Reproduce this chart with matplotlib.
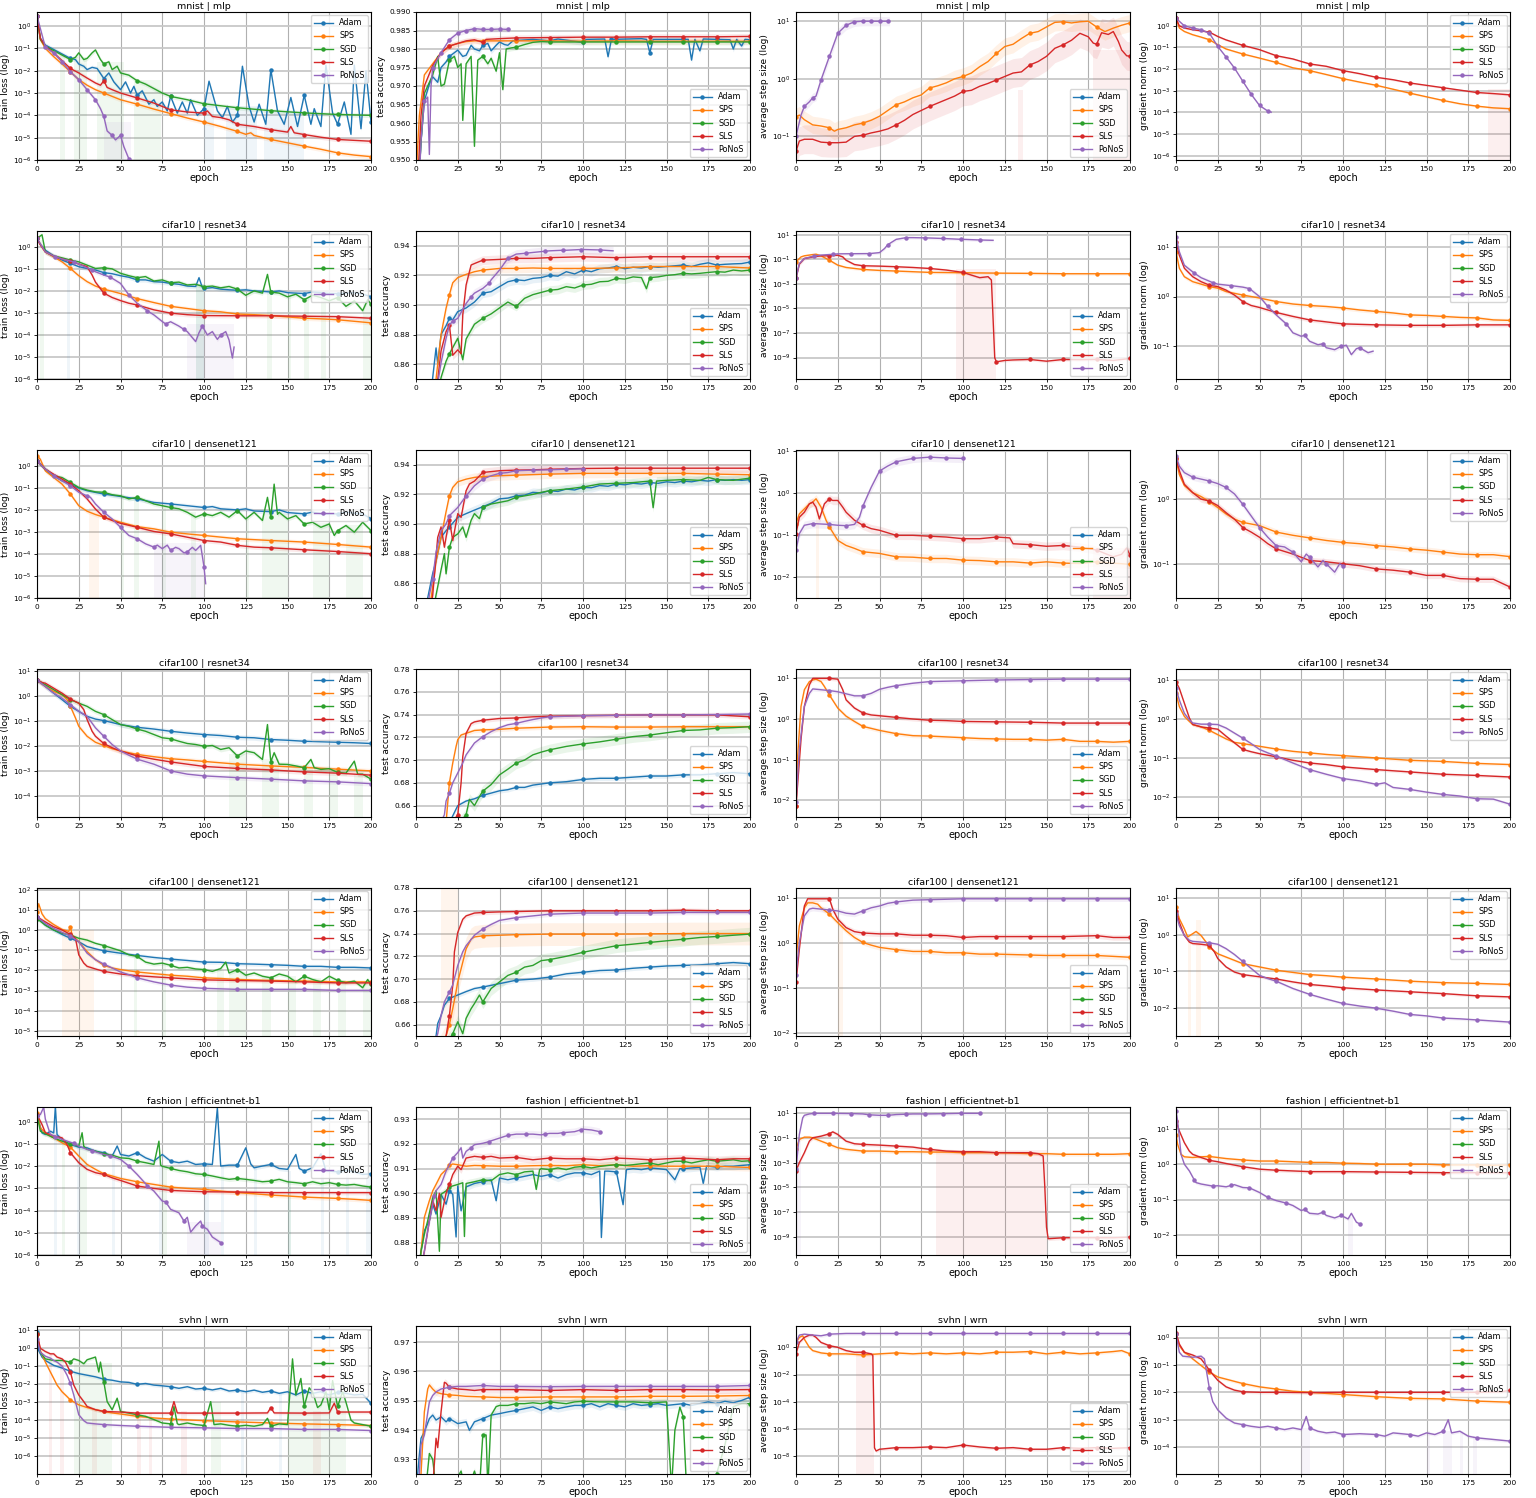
import numpy as np
import matplotlib
matplotlib.use("Agg")
import matplotlib.pyplot as plt

OPTIMIZERS = ["Adam", "SPS", "SGD", "SLS", "PoNoS"]
COLORS = ["#1f77b4", "#ff7f0e", "#2ca02c", "#d62728", "#9467bd"]
ROW_TITLES = ["mnist | mlp", "cifar10 | resnet34", "cifar10 | densenet121",
              "cifar100 | resnet34", "cifar100 | densenet121",
              "fashion | efficientnet-b1", "svhn | wrn"]
YLABELS = ["train loss (log)", "test accuracy", "average step size (log)", "gradient norm (log)"]
X_TICKS = [0, 25, 50, 75, 100, 125, 150, 175, 200]

# ===================== DATA (epoch, value); log panels store log10(value) =====================
# ---------- mnist | mlp ----------
mnist_loss_adam = [(0,.45),(2,-.55),(5,-.85),(10,-1.05),(15,-1.25),(20,-1.45),(23,-1.5),(25,-1.7),(28,-1.8),(30,-1.95),(33,-1.85),(36,-1.9),(40,-2.35),(43,-2.1),(46,-2.5),(50,-2.85),(53,-2.5),(56,-3.0),(58,-2.7),(60,-3.1),(63,-2.9),(67,-3.5),(70,-3.3),(72,-3.6),(75,-3.4),(78,-3.8),(80,-3.15),(84,-3.9),(87,-3.4),(90,-3.9),(92,-3.3),(96,-4.0),(100,-3.7),(103,-2.47),(108,-3.8),(111,-4.1),(114,-3.6),(117,-4.3),(120,-4.0),(123,-1.8),(127,-3.6),(130,-4.3),(133,-3.5),(137,-4.4),(140,-1.95),(144,-3.8),(148,-4.4),(152,-3.2),(156,-4.5),(160,-3.1),(164,-4.4),(166,-3.7),(170,-4.5),(173,-1.75),(177,-3.9),(180,-4.4),(184,-3.4),(188,-4.85),(190,-1.75),(194,-4.6),(197,-2.0),(200,-4.3)]
mnist_loss_sps = [(0,.45),(2,-.6),(5,-1.0),(10,-1.37),(15,-1.7),(20,-2.05),(25,-2.4),(30,-2.65),(35,-2.85),(40,-3.0),(50,-3.3),(60,-3.5),(70,-3.72),(80,-3.92),(90,-4.12),(100,-4.3),(110,-4.5),(120,-4.72),(125,-4.85),(128,-4.78),(130,-4.9),(140,-5.08),(150,-5.23),(160,-5.38),(170,-5.52),(180,-5.68),(190,-5.78),(200,-5.85)]
mnist_loss_sgd = [(0,.45),(2,-.6),(5,-.9),(10,-1.1),(15,-1.3),(20,-1.5),(23,-1.4),(25,-1.2),(28,-1.5),(30,-1.45),(33,-1.2),(35,-1.07),(38,-1.5),(40,-1.7),(43,-1.6),(45,-1.95),(48,-1.8),(50,-2.1),(55,-2.2),(60,-2.45),(65,-2.6),(70,-2.8),(75,-3.0),(80,-3.15),(90,-3.3),(100,-3.48),(120,-3.66),(140,-3.79),(160,-3.89),(180,-3.96),(200,-4.0)]
mnist_loss_sls = [(0,.45),(2,-.55),(5,-.9),(10,-1.2),(15,-1.55),(20,-1.9),(25,-2.1),(30,-2.33),(35,-2.55),(38,-2.65),(40,-2.45),(42,-2.75),(45,-2.85),(50,-3.0),(60,-3.22),(70,-3.45),(80,-3.75),(90,-3.85),(100,-3.9),(102,-3.8),(105,-4.05),(110,-4.1),(115,-4.2),(120,-4.4),(130,-4.5),(140,-4.64),(150,-4.75),(152,-4.5),(154,-4.78),(160,-4.86),(170,-4.98),(180,-5.08),(190,-5.12),(200,-5.16)]
mnist_loss_ponos = [(0,.45),(5,-.95),(10,-1.2),(15,-1.6),(20,-2.05),(25,-2.4),(30,-2.85),(35,-3.3),(38,-3.7),(40,-4.05),(42,-4.7),(45,-4.9),(47,-5.1),(50,-4.9),(52,-5.4),(55,-5.95),(56,-6.0)]

mnist_acc_adam = [(0,.930),(3,.955),(5,.966),(8,.9705),(10,.9725),(13,.971),(15,.975),(18,.9765),(20,.978),(23,.979),(25,.9797),(28,.978),(30,.9783),(33,.981),(35,.980),(38,.9795),(40,.981),(43,.9815),(45,.9795),(48,.981),(50,.9819),(53,.9812),(55,.981),(58,.9822),(60,.9823),(70,.9826),(80,.9822),(85,.9827),(100,.9818),(102,.9826),(113,.9827),(115,.9779),(117,.9826),(135,.9828),(138,.9826),(140,.979),(142,.9826),(160,.9826),(163,.9826),(165,.977),(167,.9826),(170,.9795),(172,.9827),(180,.9826),(188,.9825),(190,.980),(192,.9826),(195,.9808),(197,.9826),(200,.9825)]
mnist_acc_sps = [(0,.945),(2,.962),(5,.973),(10,.976),(15,.979),(20,.9808),(25,.9815),(30,.982),(35,.9822),(40,.9822),(60,.9822),(80,.9822),(100,.9821),(120,.9822),(140,.9821),(160,.9821),(180,.9821),(200,.9821)]
mnist_acc_sgd = [(0,.93),(3,.955),(5,.968),(8,.971),(10,.973),(13,.978),(15,.970),(17,.9705),(20,.977),(23,.978),(25,.975),(27,.976),(28,.9607),(30,.976),(33,.978),(35,.9537),(37,.977),(40,.978),(43,.976),(45,.9775),(48,.974),(50,.979),(52,.969),(54,.980),(57,.9803),(60,.9805),(65,.9812),(70,.9818),(75,.982),(80,.9819),(100,.9819),(120,.9819),(140,.9819),(160,.9819),(180,.9819),(200,.9819)]
mnist_acc_sls = [(0,.935),(3,.962),(5,.970),(10,.9755),(15,.979),(20,.9808),(25,.9815),(30,.9822),(35,.9825),(40,.9818),(42,.9826),(50,.9828),(60,.983),(80,.9831),(100,.9832),(120,.9832),(140,.9833),(160,.9833),(180,.9833),(200,.9834)]
mnist_acc_ponos = [(0,.925),(3,.955),(5,.966),(7,.967),(8,.9515),(9,.970),(10,.975),(15,.979),(20,.9825),(25,.9843),(30,.985),(35,.9855),(40,.9853),(45,.9853),(50,.9854),(55,.9853),(56,.9853)]

mnist_step_sps = [(0,-.66),(2,-.63),(5,-.71),(10,-.8),(15,-.82),(20,-.85),(23,-.91),(25,-.88),(30,-.85),(35,-.8),(40,-.77),(45,-.72),(50,-.65),(55,-.55),(60,-.45),(65,-.4),(70,-.33),(75,-.28),(80,-.16),(85,-.12),(90,-.07),(95,0.0),(100,.04),(105,.1),(110,.21),(115,.3),(120,.44),(125,.56),(130,.6),(135,.7),(140,.79),(145,.82),(150,.9),(155,.98),(160,.99),(165,.97),(170,.99),(175,1.0),(180,.9),(185,.82),(190,.88),(195,.93),(200,.97)]
mnist_step_sls = [(0,-1.26),(2,-1.08),(5,-1.05),(10,-1.05),(15,-1.1),(20,-1.11),(25,-1.11),(30,-1.1),(35,-1.0),(40,-.98),(45,-.94),(50,-.91),(55,-.87),(60,-.8),(65,-.72),(70,-.62),(75,-.55),(80,-.48),(85,-.42),(90,-.36),(95,-.3),(100,-.22),(105,-.2),(110,-.13),(115,-.08),(120,-.02),(125,.04),(130,.1),(135,.12),(140,.24),(145,.3),(150,.39),(155,.53),(160,.59),(165,.67),(170,.79),(175,.73),(178,.62),(180,.6),(183,.8),(187,.77),(190,.82),(193,.65),(195,.5),(198,.4),(200,.39)]
mnist_step_ponos = [(0,-1.0),(3,-.63),(5,-.48),(8,-.4),(10,-.33),(12,-.3),(15,-.02),(20,.39),(25,.79),(30,.93),(35,.99),(40,1.0),(45,1.0),(50,1.0),(55,1.0),(56,1.0)]

mnist_grad_sps = [(0,.35),(2,-.1),(5,-.26),(10,-.41),(15,-.52),(20,-.64),(25,-.87),(30,-1.07),(40,-1.3),(50,-1.49),(60,-1.69),(70,-1.94),(80,-2.07),(90,-2.25),(100,-2.44),(110,-2.6),(120,-2.75),(130,-2.93),(140,-3.11),(150,-3.28),(160,-3.45),(170,-3.6),(180,-3.71),(190,-3.79),(200,-3.83)]
mnist_grad_sls = [(0,.35),(2,0.0),(5,-.1),(10,-.18),(15,-.23),(20,-.29),(25,-.49),(30,-.65),(40,-.9),(50,-1.1),(60,-1.38),(70,-1.53),(80,-1.76),(90,-1.87),(100,-2.07),(110,-2.21),(120,-2.38),(130,-2.49),(140,-2.64),(150,-2.75),(160,-2.86),(170,-2.97),(180,-3.08),(190,-3.13),(200,-3.19)]
mnist_grad_ponos = [(0,.35),(5,0.0),(10,-.1),(15,-.18),(20,-.34),(25,-.95),(30,-1.44),(35,-1.95),(40,-2.56),(45,-3.16),(50,-3.68),(55,-3.94),(57,-3.99)]

# ---------- cifar10 | resnet34 ----------
c10r_loss_adam = [(0,.38),(2,.1),(5,-.15),(10,-.41),(15,-.6),(20,-.75),(25,-.9),(30,-.98),(35,-1.05),(40,-1.17),(45,-1.22),(50,-1.31),(55,-1.38),(60,-1.5),(65,-1.5),(70,-1.58),(75,-1.6),(80,-1.66),(85,-1.7),(90,-1.78),(95,-1.8),(97,-1.4),(99,-1.85),(100,-1.89),(105,-1.85),(110,-1.92),(115,-1.95),(120,-1.97),(125,-1.95),(130,-2.0),(135,-2.02),(140,-2.05),(145,-2.0),(150,-2.08),(155,-2.1),(160,-2.12),(165,-2.05),(170,-2.08),(175,-2.12),(180,-2.12),(185,-2.1),(190,-2.08),(195,-2.15),(200,-2.26)]
c10r_loss_sps = [(0,.38),(2,.1),(5,-.23),(10,-.45),(15,-.68),(20,-.98),(25,-1.31),(30,-1.58),(35,-1.78),(40,-1.92),(50,-2.12),(60,-2.35),(70,-2.53),(80,-2.7),(90,-2.8),(100,-2.9),(110,-2.95),(120,-3.05),(130,-3.08),(140,-3.12),(150,-3.18),(160,-3.24),(170,-3.27),(180,-3.31),(190,-3.38),(200,-3.45)]
c10r_loss_sgd = [(0,.38),(3,.55),(5,-.23),(10,-.41),(15,-.5),(20,-.6),(25,-.68),(30,-.83),(35,-.98),(40,-.95),(45,-1.0),(50,-1.2),(55,-1.31),(60,-1.4),(65,-1.35),(70,-1.55),(75,-1.5),(80,-1.63),(85,-1.6),(90,-1.73),(95,-1.7),(100,-1.81),(105,-1.78),(110,-1.86),(115,-1.8),(120,-1.92),(125,-2.2),(130,-2.0),(135,-2.1),(138,-1.25),(140,-2.05),(145,-2.1),(150,-2.27),(155,-2.15),(160,-2.4),(165,-2.2),(170,-2.3),(175,-2.45),(180,-2.3),(185,-2.7),(190,-2.45),(195,-2.9),(198,-2.4),(200,-2.6)]
c10r_loss_sls = [(0,.38),(2,.1),(5,-.23),(10,-.42),(15,-.55),(20,-.65),(25,-.78),(30,-.9),(33,-1.28),(35,-1.6),(40,-2.1),(45,-2.3),(50,-2.44),(55,-2.56),(60,-2.64),(70,-2.86),(80,-3.01),(90,-3.08),(100,-3.12),(120,-3.13),(140,-3.13),(160,-3.15),(180,-3.17),(200,-3.24)]
c10r_loss_ponos = [(0,.38),(5,-.23),(11,-.45),(15,-.55),(22,-.68),(25,-.78),(30,-.95),(33,-1.05),(35,-1.13),(40,-1.28),(44,-1.38),(50,-1.66),(55,-2.18),(60,-2.56),(66,-2.9),(70,-3.09),(75,-3.39),(77,-3.5),(80,-3.4),(85,-3.6),(88,-3.75),(90,-3.85),(95,-4.3),(97,-3.9),(99,-3.6),(102,-4.0),(105,-3.85),(108,-4.2),(110,-4.0),(113,-3.85),(115,-4.23),(117,-5.05),(118,-4.55)]

c10r_acc_adam = [(0,.80),(8,.83),(10,.851),(12,.871),(13,.86),(15,.88),(18,.886),(20,.891),(22,.89),(25,.8955),(30,.898),(35,.902),(40,.908),(45,.909),(50,.9124),(55,.9157),(60,.917),(65,.9165),(70,.918),(75,.9185),(80,.920),(85,.9195),(90,.9225),(95,.921),(100,.9236),(105,.9225),(110,.9245),(115,.925),(120,.926),(125,.9245),(130,.9255),(135,.925),(140,.926),(145,.9255),(150,.926),(155,.9265),(160,.927),(165,.926),(170,.9275),(175,.9285),(180,.927),(185,.9275),(190,.9278),(195,.928),(200,.929)]
c10r_acc_sps = [(0,.78),(10,.83),(15,.88),(18,.8978),(20,.907),(22,.915),(25,.9185),(30,.9207),(35,.9225),(40,.9236),(50,.9247),(60,.9247),(70,.925),(80,.9247),(100,.9247),(120,.925),(140,.926),(160,.926),(180,.926),(200,.925)]
c10r_acc_sgd = [(0,.78),(12,.83),(15,.851),(18,.862),(20,.867),(25,.8775),(28,.863),(30,.877),(35,.887),(40,.891),(45,.894),(50,.898),(55,.902),(60,.899),(65,.9045),(70,.907),(75,.9085),(80,.910),(85,.9105),(90,.9124),(95,.9115),(100,.9135),(105,.914),(110,.9157),(115,.916),(120,.918),(125,.9175),(130,.919),(135,.9185),(138,.911),(140,.9185),(145,.919),(150,.920),(155,.9205),(160,.9214),(165,.921),(170,.9214),(175,.922),(180,.9225),(185,.9222),(190,.9236),(195,.923),(200,.9236)]
c10r_acc_sls = [(0,.78),(11,.83),(15,.869),(18,.882),(20,.8865),(22,.866),(25,.8697),(27,.867),(28,.8933),(30,.9135),(33,.927),(35,.928),(40,.9303),(50,.9308),(60,.9315),(70,.9315),(80,.932),(100,.9326),(120,.932),(140,.9326),(160,.9326),(180,.9326),(200,.9326)]
c10r_acc_ponos = [(0,.78),(12,.84),(15,.861),(18,.8775),(20,.8865),(22,.889),(25,.891),(30,.901),(33,.9055),(35,.908),(40,.9112),(44,.915),(45,.917),(50,.9236),(55,.9315),(60,.9344),(66,.935),(70,.9355),(77,.9363),(80,.9366),(88,.937),(90,.937),(99,.9375),(100,.9375),(110,.9372),(118,.9366)]

c10r_step_sps = [(0,-1.21),(3,-.81),(5,-.72),(10,-.62),(12,-.59),(15,-.72),(20,-1.08),(25,-1.48),(30,-1.67),(40,-1.83),(50,-1.91),(60,-1.96),(80,-2.07),(100,-2.1),(120,-2.13),(140,-2.15),(160,-2.18),(180,-2.18),(200,-2.18)]
c10r_step_sls = [(0,-2.56),(2,-1.4),(5,-.94),(10,-.81),(15,-.72),(20,-.72),(25,-.67),(28,-.81),(30,-1.08),(35,-1.43),(40,-1.53),(50,-1.56),(60,-1.61),(70,-1.67),(80,-1.75),(90,-1.88),(100,-2.07),(105,-2.29),(110,-2.5),(115,-2.42),(117,-2.69),(118,-5.8),(119,-9.03),(120,-9.35),(125,-9.24),(130,-9.2),(140,-9.16),(150,-9.3),(160,-9.16),(170,-9.18),(180,-9.16),(190,-9.24),(200,-9.08)]
c10r_step_ponos = [(0,-2.56),(2,-1.35),(5,-.94),(11,-.73),(15,-.66),(22,-.6),(25,-.56),(33,-.55),(44,-.54),(50,-.46),(53,-.13),(55,.19),(60,.62),(66,.76),(70,.76),(77,.74),(80,.73),(88,.69),(90,.68),(99,.62),(100,.62),(110,.57),(118,.54)]

c10r_grad_sps = [(0,.9),(2,.57),(5,.4),(10,.3),(15,.25),(20,.2),(25,.17),(30,.1),(40,.03),(50,-.03),(60,-.1),(70,-.15),(80,-.18),(90,-.2),(100,-.23),(110,-.27),(120,-.3),(130,-.33),(140,-.37),(150,-.38),(160,-.4),(170,-.42),(180,-.43),(190,-.47),(200,-.48)]
c10r_grad_sls = [(0,1.1),(2,.83),(5,.57),(10,.4),(15,.3),(20,.23),(25,.2),(30,.13),(35,.03),(40,-.1),(45,-.18),(50,-.22),(55,-.27),(60,-.32),(70,-.4),(80,-.47),(90,-.51),(100,-.55),(120,-.57),(140,-.58),(160,-.58),(180,-.57),(200,-.57)]
c10r_grad_ponos = [(0,1.2),(2,.9),(5,.63),(11,.47),(15,.38),(22,.28),(25,.25),(33,.22),(40,.19),(44,.16),(50,0.0),(55,-.2),(60,-.37),(66,-.55),(70,-.73),(75,-.8),(77,-.78),(80,-.9),(85,-.97),(88,-.95),(90,-1.03),(95,-1.07),(99,-1.0),(102,-.98),(105,-1.17),(108,-1.05),(110,-1.03),(115,-1.13),(118,-1.1)]

# ---------- cifar10 | densenet121 ----------
c10d_loss_adam = [(0,.23),(5,-.15),(10,-.45),(15,-.68),(20,-.83),(25,-1.01),(30,-1.13),(40,-1.28),(50,-1.39),(60,-1.5),(70,-1.66),(80,-1.73),(90,-1.81),(100,-1.89),(105,-1.85),(110,-1.95),(120,-2.0),(125,-1.95),(130,-2.05),(140,-2.08),(145,-2.0),(150,-2.12),(160,-2.18),(165,-2.1),(170,-2.18),(180,-2.18),(185,-2.1),(190,-2.15),(195,-2.18),(200,-2.4)]
c10d_loss_sps = [(0,.45),(2,.3),(5,-.23),(10,-.53),(15,-.83),(20,-1.28),(25,-1.81),(30,-2.06),(35,-2.21),(40,-2.33),(50,-2.56),(60,-2.76),(70,-2.86),(80,-3.01),(90,-3.09),(100,-3.16),(120,-3.31),(140,-3.39),(160,-3.46),(180,-3.57),(200,-3.69)]
c10d_loss_sgd = [(0,.23),(5,-.15),(10,-.45),(15,-.53),(20,-.75),(25,-.98),(30,-1.1),(35,-1.18),(40,-1.2),(45,-1.31),(50,-1.36),(55,-1.5),(60,-1.43),(65,-1.58),(70,-1.73),(75,-1.81),(80,-1.89),(85,-1.95),(90,-2.11),(95,-2.33),(100,-2.18),(105,-2.26),(110,-2.11),(115,-2.33),(120,-2.03),(125,-2.41),(130,-2.11),(135,-2.48),(138,-1.43),(140,-2.33),(142,-.83),(144,-2.2),(145,-2.11),(150,-2.41),(155,-2.26),(160,-2.64),(165,-2.56),(170,-2.79),(175,-2.64),(178,-3.16),(180,-2.94),(185,-2.71),(190,-3.01),(195,-2.56),(200,-2.94)]
c10d_loss_sls = [(0,.23),(5,-.15),(10,-.38),(15,-.6),(20,-.83),(25,-1.13),(30,-1.5),(35,-1.96),(40,-2.33),(45,-2.48),(50,-2.61),(60,-2.79),(70,-2.98),(80,-3.09),(90,-3.24),(100,-3.39),(110,-3.46),(120,-3.61),(130,-3.69),(140,-3.72),(160,-3.81),(180,-3.89),(200,-3.99)]
c10d_loss_ponos = [(0,.23),(5,-.15),(10,-.45),(15,-.68),(20,-.9),(25,-1.2),(30,-1.36),(32,-1.43),(35,-1.73),(40,-2.11),(45,-2.41),(50,-2.79),(55,-3.16),(60,-3.31),(65,-3.54),(70,-3.69),(72,-3.6),(75,-3.76),(78,-3.6),(80,-3.84),(83,-3.7),(85,-3.76),(88,-3.95),(90,-3.91),(93,-3.7),(95,-3.84),(98,-3.61),(100,-4.59),(101,-5.35)]

c10d_acc_adam = [(0,.80),(7,.85),(10,.8666),(12,.875),(15,.891),(18,.8955),(20,.898),(25,.9045),(30,.907),(35,.9094),(40,.9117),(45,.914),(50,.917),(55,.9175),(60,.919),(65,.9195),(70,.9214),(75,.921),(80,.9225),(85,.922),(90,.9236),(95,.923),(100,.9247),(105,.9245),(110,.926),(115,.9255),(120,.927),(125,.9265),(130,.9275),(135,.927),(140,.928),(145,.9275),(150,.9285),(155,.928),(160,.929),(165,.9285),(170,.9295),(175,.929),(180,.930),(185,.9295),(190,.930),(195,.9295),(200,.930)]
c10d_acc_sps = [(0,.78),(10,.8575),(12,.875),(15,.891),(18,.9083),(20,.919),(22,.9247),(25,.9285),(30,.9303),(35,.9315),(40,.932),(50,.9326),(60,.933),(80,.9337),(100,.9342),(120,.9342),(140,.9342),(160,.9342),(180,.9337),(200,.9333)]
c10d_acc_sgd = [(0,.78),(12,.852),(15,.869),(17,.88),(18,.8663),(20,.8843),(22,.891),(25,.8933),(28,.898),(30,.891),(33,.9025),(35,.907),(38,.9036),(40,.9112),(45,.9135),(50,.9146),(55,.9157),(60,.918),(65,.919),(70,.920),(75,.9214),(80,.9225),(90,.9236),(100,.925),(110,.927),(120,.9275),(130,.928),(140,.929),(142,.911),(144,.929),(150,.9295),(160,.930),(170,.9295),(175,.9315),(180,.930),(190,.9295),(200,.931)]
c10d_acc_sls = [(0,.78),(10,.852),(13,.891),(15,.898),(17,.8843),(18,.891),(20,.9027),(22,.8888),(25,.907),(27,.9045),(30,.9225),(32,.927),(35,.929),(40,.9348),(50,.936),(60,.9364),(70,.9366),(80,.937),(100,.9375),(120,.9377),(140,.9377),(160,.9377),(180,.9377),(200,.9377)]
c10d_acc_ponos = [(0,.78),(8,.852),(10,.863),(12,.881),(15,.8955),(18,.9),(20,.9056),(25,.9112),(30,.919),(35,.9258),(40,.9303),(45,.9326),(50,.9342),(55,.9348),(60,.936),(70,.9364),(80,.9366),(90,.937),(100,.9373)]

c10d_step_sps = [(0,-.72),(2,-.49),(5,-.37),(8,-.25),(10,-.21),(12,-.13),(15,-.33),(18,-.64),(20,-.8),(25,-1.12),(30,-1.24),(35,-1.31),(40,-1.39),(50,-1.43),(60,-1.51),(70,-1.52),(80,-1.55),(90,-1.55),(100,-1.59),(110,-1.6),(120,-1.63),(130,-1.63),(140,-1.66),(150,-1.63),(160,-1.66),(170,-1.67),(180,-1.63),(190,-1.66),(200,-1.69)]
c10d_step_sls = [(0,-.96),(2,-.57),(5,-.45),(8,-.25),(10,-.21),(12,-.33),(14,-.61),(17,-.25),(20,-.13),(22,-.17),(25,-.17),(28,-.33),(30,-.45),(35,-.64),(40,-.76),(45,-.84),(50,-.88),(60,-1.0),(70,-1.0),(80,-1.02),(90,-1.04),(100,-1.08),(110,-1.08),(120,-1.04),(128,-1.06),(130,-1.2),(140,-1.22),(150,-1.26),(160,-1.24),(170,-1.28),(180,-1.35),(190,-1.51),(195,-1.45),(198,-1.3),(200,-1.47)]
c10d_step_ponos = [(0,-1.35),(2,-.96),(5,-.76),(10,-.72),(20,-.74),(25,-.76),(30,-.77),(35,-.74),(38,-.57),(40,-.31),(45,.14),(50,.53),(55,.65),(60,.75),(70,.83),(80,.86),(90,.84),(100,.83)]

c10d_grad_sps = [(0,.62),(2,.38),(5,.21),(10,.1),(15,.04),(20,-.04),(25,-.13),(30,-.23),(35,-.31),(40,-.36),(50,-.41),(60,-.51),(70,-.56),(80,-.6),(90,-.64),(100,-.67),(110,-.69),(120,-.72),(130,-.74),(140,-.77),(150,-.79),(160,-.82),(170,-.85),(180,-.86),(190,-.86),(200,-.89)]
c10d_grad_sls = [(0,.64),(2,.44),(5,.23),(10,.1),(15,0.0),(20,-.03),(25,-.1),(30,-.21),(35,-.31),(40,-.44),(45,-.51),(50,-.59),(55,-.69),(60,-.77),(70,-.85),(80,-.95),(90,-.97),(100,-1.0),(110,-1.03),(120,-1.08),(130,-1.1),(140,-1.13),(150,-1.18),(160,-1.18),(170,-1.23),(180,-1.24),(190,-1.24),(200,-1.36)]
c10d_grad_ponos = [(0,.67),(2,.51),(5,.41),(10,.34),(15,.31),(20,.28),(25,.24),(30,.18),(35,.08),(40,-.08),(45,-.26),(50,-.44),(55,-.59),(60,-.72),(65,-.74),(70,-.82),(75,-.97),(78,-.85),(80,-.9),(85,-1.05),(88,-.95),(90,-1.0),(95,-1.13),(98,-1.0),(100,-1.03)]

# ---------- cifar100 | resnet34 ----------
c100r_loss_adam = [(0,.66),(5,.4),(10,.13),(15,-.13),(20,-.4),(25,-.6),(30,-.8),(35,-.91),(40,-.97),(50,-1.13),(60,-1.24),(70,-1.31),(80,-1.4),(90,-1.47),(100,-1.53),(110,-1.57),(120,-1.64),(130,-1.66),(140,-1.73),(150,-1.76),(160,-1.8),(170,-1.82),(180,-1.84),(190,-1.86),(200,-1.89)]
c100r_loss_sps = [(0,.66),(5,.4),(10,.2),(15,.07),(18,-.13),(20,-.4),(23,-.86),(25,-1.2),(30,-1.6),(35,-1.84),(40,-1.97),(45,-2.1),(50,-2.19),(60,-2.33),(70,-2.42),(80,-2.5),(90,-2.55),(100,-2.61),(120,-2.72),(140,-2.79),(160,-2.85),(180,-2.92),(200,-2.99)]
c100r_loss_sgd = [(0,.66),(5,.47),(10,.27),(15,.07),(20,-.13),(25,-.27),(30,-.4),(35,-.6),(40,-.73),(45,-.93),(50,-1.13),(55,-1.2),(60,-1.31),(65,-1.4),(70,-1.53),(75,-1.66),(80,-1.7),(85,-1.8),(90,-1.89),(95,-1.93),(100,-2.0),(105,-1.97),(110,-2.13),(115,-2.06),(120,-2.39),(125,-2.19),(130,-2.26),(135,-2.53),(138,-1.13),(140,-2.63),(142,-2.26),(145,-2.72),(150,-2.73),(155,-2.79),(160,-2.86),(164,-2.53),(166,-2.86),(170,-2.93),(175,-2.9),(180,-3.05),(185,-3.08),(190,-2.6),(192,-3.12),(195,-3.12),(200,-3.32)]
c100r_loss_sls = [(0,.66),(3,.56),(5,.53),(10,.33),(15,.13),(20,-.11),(25,-.27),(28,-.53),(30,-.93),(33,-1.4),(35,-1.6),(40,-1.89),(45,-2.06),(50,-2.19),(60,-2.39),(70,-2.52),(80,-2.63),(90,-2.72),(100,-2.81),(120,-2.89),(140,-2.95),(160,-3.03),(180,-3.08),(200,-3.16)]
c100r_loss_ponos = [(0,.66),(5,.4),(10,.13),(15,-.07),(20,-.33),(25,-.6),(30,-.8),(35,-1.26),(40,-1.6),(45,-1.93),(50,-2.19),(55,-2.36),(60,-2.52),(70,-2.72),(80,-2.99),(90,-3.12),(100,-3.19),(120,-3.26),(140,-3.32),(160,-3.39),(180,-3.43),(200,-3.5)]

c100r_acc_adam = [(0,.60),(20,.645),(25,.660),(30,.664),(35,.666),(40,.669),(45,.671),(50,.673),(55,.674),(60,.676),(65,.676),(70,.678),(75,.679),(80,.680),(90,.681),(100,.683),(110,.684),(120,.684),(130,.685),(140,.686),(150,.686),(160,.687),(170,.687),(180,.688),(190,.689),(200,.688)]
c100r_acc_sps = [(0,.60),(18,.645),(20,.68),(22,.6975),(24,.712),(25,.718),(27,.722),(30,.7235),(35,.726),(40,.7265),(50,.727),(60,.728),(80,.729),(100,.7293),(120,.729),(140,.729),(160,.7293),(180,.7293),(200,.7293)]
c100r_acc_sgd = [(0,.60),(30,.652),(32,.6655),(35,.66),(38,.668),(40,.6727),(45,.6785),(50,.687),(55,.692),(60,.6974),(65,.70),(70,.7046),(75,.707),(80,.709),(90,.712),(100,.7142),(110,.716),(120,.7183),(130,.7206),(140,.722),(150,.724),(160,.726),(170,.7265),(180,.728),(190,.7285),(200,.7293)]
c100r_acc_sls = [(0,.60),(25,.652),(27,.68),(28,.703),(30,.7235),(33,.732),(35,.7335),(40,.735),(50,.7365),(60,.737),(70,.738),(80,.7385),(100,.739),(120,.7393),(140,.7397),(160,.7397),(180,.7397),(200,.738)]
c100r_acc_ponos = [(0,.60),(17,.652),(18,.664),(20,.671),(22,.68),(25,.6887),(28,.6975),(30,.7046),(35,.715),(40,.7206),(45,.725),(50,.7285),(55,.731),(60,.7322),(65,.734),(70,.7356),(75,.737),(80,.738),(100,.739),(120,.7393),(140,.7397),(160,.7397),(180,.74),(200,.7405)]

c100r_step_sps = [(0,-2.14),(1,-.91),(3,.31),(5,.72),(8,.92),(10,.96),(12,.98),(15,.92),(17,.8),(20,.59),(25,.27),(30,.07),(35,-.06),(40,-.18),(50,-.28),(60,-.36),(70,-.41),(80,-.42),(90,-.44),(100,-.46),(110,-.48),(120,-.49),(130,-.5),(140,-.5),(150,-.52),(160,-.5),(170,-.55),(180,-.55),(190,-.57),(200,-.55)]
c100r_step_sls = [(0,-2.14),(3,-.5),(5,.31),(8,.84),(10,1.0),(15,1.0),(20,1.0),(25,.98),(28,.72),(30,.47),(35,.27),(40,.15),(45,.1),(50,.08),(60,.04),(70,0.0),(80,-.03),(90,-.04),(100,-.06),(120,-.07),(140,-.08),(160,-.1),(180,-.1),(200,-.1)]
c100r_step_ponos = [(0,-2.05),(2,-.75),(5,.31),(8,.63),(10,.74),(15,.72),(20,.7),(25,.67),(30,.62),(35,.57),(40,.57),(45,.63),(50,.73),(55,.78),(60,.82),(70,.88),(80,.92),(100,.94),(120,.96),(140,.97),(160,.98),(180,.98),(200,.98)]

c100r_grad_sps = [(0,.66),(2,.32),(5,.07),(8,-.06),(10,-.14),(15,-.2),(20,-.29),(25,-.4),(30,-.51),(35,-.6),(40,-.63),(50,-.7),(60,-.77),(70,-.83),(80,-.87),(90,-.91),(100,-.94),(120,-1.0),(140,-1.06),(160,-1.09),(180,-1.14),(200,-1.17)]
c100r_grad_sls = [(0,.96),(2,.79),(5,.41),(8,.03),(10,-.14),(15,-.2),(20,-.23),(25,-.26),(30,-.44),(35,-.61),(40,-.78),(45,-.84),(50,-.89),(60,-.97),(70,-1.06),(80,-1.13),(90,-1.17),(100,-1.23),(120,-1.3),(140,-1.36),(160,-1.42),(180,-1.45),(200,-1.49)]
c100r_grad_ponos = [(0,.79),(2,.49),(5,.15),(8,-.02),(10,-.1),(15,-.13),(20,-.13),(25,-.14),(30,-.23),(35,-.36),(40,-.49),(45,-.63),(50,-.78),(55,-.87),(60,-.95),(70,-1.13),(80,-1.3),(90,-1.42),(100,-1.53),(110,-1.59),(120,-1.68),(125,-1.64),(130,-1.76),(140,-1.81),(150,-1.88),(160,-1.94),(170,-1.98),(180,-2.05),(190,-2.06),(200,-2.19)]

# ---------- cifar100 | densenet121 ----------
c100d_loss_adam = [(0,.65),(5,.24),(10,0.0),(15,-.22),(20,-.41),(25,-.58),(30,-.82),(35,-.93),(40,-1.03),(50,-1.15),(60,-1.26),(70,-1.36),(80,-1.44),(90,-1.51),(100,-1.59),(110,-1.6),(120,-1.67),(130,-1.69),(140,-1.72),(150,-1.75),(160,-1.8),(170,-1.8),(180,-1.85),(190,-1.85),(200,-1.88)]
c100d_loss_sps = [(0,.89),(1,1.3),(3,.8),(5,.56),(10,.27),(15,.03),(19,-.07),(20,.16),(21,-.25),(25,-.58),(30,-1.07),(35,-1.47),(40,-1.75),(45,-1.88),(50,-1.96),(60,-2.08),(70,-2.16),(80,-2.24),(90,-2.29),(100,-2.37),(110,-2.4),(120,-2.45),(140,-2.5),(160,-2.53),(180,-2.57),(200,-2.57)]
c100d_loss_sgd = [(0,.56),(5,.24),(10,0.0),(15,-.16),(20,-.25),(25,-.41),(30,-.5),(35,-.66),(40,-.77),(45,-.9),(50,-1.03),(55,-1.23),(60,-1.31),(65,-1.59),(70,-1.69),(75,-1.64),(80,-1.75),(85,-1.88),(90,-1.85),(95,-1.93),(100,-1.96),(105,-2.05),(110,-1.91),(113,-1.59),(115,-2.13),(120,-1.96),(125,-2.24),(130,-2.13),(135,-2.29),(140,-2.37),(145,-2.18),(150,-2.29),(155,-2.57),(160,-2.29),(165,-2.45),(170,-2.57),(175,-2.29),(180,-2.5),(185,-2.61),(190,-2.53),(195,-2.86),(198,-2.45),(200,-2.69)]
c100d_loss_sls = [(0,.65),(5,.4),(10,.16),(15,0.0),(20,-.22),(23,-.41),(25,-1.23),(28,-1.64),(30,-1.8),(35,-1.93),(40,-2.05),(50,-2.18),(60,-2.26),(70,-2.32),(80,-2.37),(90,-2.42),(100,-2.47),(120,-2.5),(140,-2.53),(160,-2.57),(180,-2.62),(200,-2.62)]
c100d_loss_ponos = [(0,.65),(5,.32),(10,.08),(15,-.12),(20,-.3),(25,-.58),(30,-1.15),(35,-1.47),(40,-1.69),(45,-1.88),(50,-2.08),(55,-2.21),(60,-2.37),(70,-2.57),(80,-2.73),(90,-2.83),(100,-2.89),(120,-2.94),(140,-2.94),(160,-2.94),(180,-2.99),(200,-2.99)]

c100d_acc_adam = [(0,.60),(12,.65),(13,.661),(15,.668),(17,.677),(20,.683),(25,.686),(30,.689),(35,.6917),(40,.693),(50,.696),(60,.699),(70,.700),(80,.7017),(90,.7046),(100,.706),(110,.7075),(120,.708),(130,.7095),(140,.7105),(150,.7115),(160,.712),(170,.7125),(180,.7135),(190,.7145),(200,.7135)]
c100d_acc_sps = [(0,.60),(18,.65),(20,.66),(22,.674),(24,.689),(25,.6975),(27,.709),(30,.7265),(33,.735),(35,.737),(40,.738),(50,.7385),(60,.739),(80,.7395),(100,.7395),(120,.7395),(140,.7397),(160,.740),(180,.740),(200,.740)]
c100d_acc_sgd = [(0,.60),(22,.652),(25,.6625),(28,.652),(30,.6655),(33,.674),(35,.6785),(38,.686),(40,.68),(45,.6917),(50,.6975),(55,.7032),(60,.706),(65,.7105),(70,.712),(75,.7162),(80,.7171),(90,.720),(100,.7235),(110,.7265),(120,.7293),(130,.7307),(140,.7322),(150,.7336),(160,.735),(170,.7365),(180,.7374),(190,.7385),(200,.7395)]
c100d_acc_sls = [(0,.60),(18,.65),(20,.668),(22,.6945),(23,.724),(25,.741),(28,.7525),(30,.7555),(35,.758),(40,.7585),(50,.759),(60,.7593),(80,.76),(100,.76),(120,.76),(140,.76),(160,.7605),(180,.76),(200,.76)]
c100d_acc_ponos = [(0,.60),(13,.652),(15,.668),(17,.68),(20,.6887),(22,.695),(25,.712),(28,.724),(30,.7293),(35,.7385),(40,.744),(45,.748),(50,.7515),(60,.754),(70,.7555),(80,.757),(100,.758),(120,.758),(140,.758),(160,.7585),(180,.7585),(200,.7585)]

c100d_step_sps = [(0,-.35),(2,.39),(5,.79),(7,.9),(10,.9),(13,.87),(15,.79),(20,.65),(25,.46),(30,.28),(35,.13),(40,.02),(45,-.04),(50,-.09),(60,-.14),(70,-.18),(80,-.18),(90,-.21),(100,-.21),(110,-.24),(120,-.24),(130,-.25),(140,-.26),(150,-.27),(160,-.27),(170,-.27),(180,-.27),(190,-.29),(200,-.31)]
c100d_step_sls = [(0,-.86),(2,-.13),(5,.83),(7,.99),(10,.99),(15,.99),(20,.99),(22,.76),(25,.54),(30,.35),(35,.26),(40,.23),(50,.21),(60,.21),(70,.18),(80,.18),(90,.17),(100,.13),(110,.15),(120,.15),(140,.15),(160,.15),(180,.17),(190,.13),(200,.13)]
c100d_step_ponos = [(0,-.71),(2,.02),(5,.61),(8,.76),(10,.78),(15,.76),(20,.74),(25,.72),(30,.67),(35,.65),(40,.72),(45,.79),(50,.83),(55,.89),(60,.92),(70,.96),(80,.97),(100,.99),(120,.99),(140,.99),(160,.99),(180,.99),(200,.99)]

c100d_grad_sps = [(0,.75),(2,.44),(5,.16),(7,-.06),(10,.03),(12,.09),(15,-.02),(18,-.2),(20,-.34),(25,-.52),(30,-.61),(35,-.7),(40,-.79),(50,-.88),(60,-.97),(70,-1.03),(80,-1.09),(90,-1.12),(100,-1.16),(120,-1.21),(140,-1.27),(160,-1.31),(180,-1.33),(200,-1.36)]
c100d_grad_sls = [(0,.66),(2,.34),(5,-.02),(8,-.2),(10,-.24),(15,-.26),(20,-.29),(23,-.47),(25,-.65),(30,-.88),(35,-1.02),(40,-1.09),(50,-1.15),(60,-1.21),(70,-1.29),(80,-1.36),(90,-1.4),(100,-1.45),(120,-1.51),(140,-1.56),(160,-1.61),(180,-1.67),(200,-1.7)]
c100d_grad_ponos = [(0,.57),(2,.25),(5,-.02),(8,-.15),(10,-.18),(15,-.2),(20,-.22),(25,-.26),(30,-.38),(35,-.54),(40,-.73),(45,-.92),(50,-1.11),(55,-1.2),(60,-1.27),(70,-1.47),(80,-1.63),(90,-1.76),(100,-1.88),(110,-1.95),(120,-2.01),(130,-2.09),(140,-2.18),(150,-2.22),(160,-2.28),(170,-2.3),(180,-2.33),(190,-2.36),(200,-2.39)]

# ---------- fashion | efficientnet-b1 ----------
fash_loss_adam = [(0,.33),(3,-.5),(5,-.57),(8,-.42),(10,-.5),(11,.7),(12,-.57),(15,-.8),(20,-1.02),(25,-1.14),(30,-1.17),(35,-1.32),(40,-1.39),(45,-1.54),(48,-1.09),(50,-1.47),(55,-1.54),(60,-1.39),(65,-1.62),(70,-1.77),(75,-1.47),(80,-1.77),(85,-1.84),(90,-1.77),(95,-1.92),(100,-1.89),(105,-1.92),(108,.63),(110,-1.99),(115,-1.95),(120,-1.95),(125,-1.17),(128,-1.9),(130,-2.07),(135,-1.99),(140,-1.92),(145,-2.1),(150,-2.14),(155,-1.47),(157,-2.1),(160,-2.22),(165,-2.07),(170,-1.44),(173,-2.2),(175,-2.22),(180,-2.25),(185,-2.19),(190,-2.25),(195,-2.37),(200,-2.34)]
fash_loss_sps = [(0,.4),(2,-.27),(5,-.49),(10,-.72),(15,-.94),(20,-1.14),(25,-1.54),(30,-1.92),(35,-2.14),(40,-2.34),(45,-2.44),(50,-2.55),(60,-2.7),(70,-2.82),(80,-2.94),(90,-3.0),(100,-3.04),(110,-3.12),(120,-3.19),(130,-3.24),(140,-3.3),(150,-3.34),(160,-3.39),(170,-3.42),(180,-3.45),(190,-3.49),(200,-3.54)]
fash_loss_sgd = [(0,.33),(2,-.42),(5,-.54),(10,-.72),(15,-.87),(20,-.99),(25,-1.09),(27,-.49),(28,-1.1),(30,-1.24),(35,-1.32),(40,-1.44),(45,-1.5),(50,-1.62),(55,-1.65),(60,-1.77),(65,-1.84),(70,-1.92),(73,-.87),(74,-1.95),(75,-2.0),(80,-2.1),(85,-2.19),(90,-2.25),(95,-2.34),(100,-2.37),(105,-2.44),(110,-2.52),(115,-2.59),(120,-2.55),(125,-2.59),(130,-2.64),(135,-2.7),(140,-2.67),(145,-2.59),(150,-2.7),(155,-2.74),(160,-2.79),(165,-2.7),(170,-2.79),(175,-2.74),(180,-2.82),(185,-2.85),(190,-2.82),(195,-2.89),(200,-2.94)]
fash_loss_sls = [(0,.33),(2,.03),(3,-.12),(5,-.49),(10,-.64),(15,-.72),(18,-1.02),(20,-1.39),(25,-1.84),(30,-2.14),(35,-2.29),(40,-2.37),(45,-2.52),(50,-2.64),(60,-2.89),(70,-3.0),(80,-3.09),(90,-3.12),(100,-3.15),(120,-3.16),(140,-3.19),(160,-3.19),(180,-3.19),(200,-3.19)]
fash_loss_ponos = [(0,.25),(2,.33),(4,.66),(5,.12),(8,-.57),(11,-.66),(15,-.79),(22,-.97),(25,-1.09),(30,-1.24),(33,-1.3),(40,-1.47),(44,-1.53),(50,-1.69),(55,-1.99),(60,-2.37),(66,-2.87),(70,-3.12),(75,-3.57),(77,-3.6),(80,-3.94),(85,-4.1),(88,-4.47),(90,-4.3),(92,-4.97),(95,-4.69),(98,-4.47),(99,-4.7),(102,-4.84),(105,-5.19),(108,-5.34),(110,-5.44)]

fash_acc_adam = [(0,.86),(3,.8765),(5,.8849),(8,.8889),(10,.8956),(12,.8916),(15,.8996),(18,.8956),(20,.901),(22,.8996),(24,.8823),(25,.903),(27,.8929),(30,.9026),(35,.904),(40,.9047),(45,.9055),(48,.897),(50,.9062),(55,.9055),(60,.9062),(65,.9069),(70,.9076),(75,.9069),(80,.9076),(85,.9062),(90,.9076),(95,.9083),(100,.9083),(105,.9076),(110,.909),(111,.8821),(113,.909),(115,.909),(120,.9087),(124,.8954),(126,.9096),(130,.91),(135,.9096),(140,.9103),(145,.91),(150,.9096),(155,.9055),(158,.91),(160,.91),(165,.9103),(170,.9106),(172,.904),(174,.911),(175,.911),(180,.9106),(185,.911),(190,.911),(195,.9113),(200,.9116)]
fash_acc_sps = [(0,.86),(3,.8765),(5,.8903),(8,.897),(10,.901),(12,.9036),(15,.9076),(18,.9096),(20,.9113),(22,.9119),(25,.9116),(30,.911),(35,.9113),(40,.9112),(50,.911),(60,.911),(70,.9112),(80,.9113),(90,.9112),(100,.9116),(110,.9112),(120,.9116),(130,.911),(140,.9112),(150,.911),(160,.911),(170,.911),(180,.911),(190,.9107),(200,.9105)]
fash_acc_sgd = [(0,.86),(3,.8765),(5,.8835),(7,.8889),(10,.8983),(12,.901),(14,.8765),(15,.8996),(18,.901),(20,.9026),(25,.9036),(28,.9043),(29,.8825),(30,.904),(35,.9047),(40,.9055),(45,.9051),(50,.9076),(55,.9083),(60,.9076),(65,.9087),(70,.909),(72,.9016),(74,.9096),(75,.91),(80,.9096),(85,.9103),(90,.9096),(95,.9106),(100,.9109),(105,.9103),(110,.9109),(115,.9113),(120,.9116),(125,.9113),(130,.9116),(135,.912),(140,.9123),(145,.9116),(150,.9123),(155,.913),(160,.913),(165,.9123),(170,.913),(175,.9136),(180,.913),(185,.9133),(190,.9136),(195,.913),(200,.9132)]
fash_acc_sls = [(0,.86),(5,.8765),(8,.8889),(10,.897),(12,.893),(14,.9),(15,.8903),(18,.9),(20,.9036),(22,.9076),(25,.911),(27,.9096),(30,.9143),(35,.915),(40,.9146),(45,.915),(50,.9143),(60,.9146),(70,.9136),(80,.9143),(90,.914),(100,.914),(110,.9136),(120,.9143),(130,.914),(140,.9136),(150,.914),(160,.9143),(170,.914),(180,.9136),(190,.914),(200,.914)]
fash_acc_ponos = [(0,.86),(5,.8765),(8,.8889),(11,.899),(12,.901),(15,.9036),(18,.909),(20,.9116),(22,.9143),(25,.9165),(27,.9185),(28,.9143),(30,.917),(33,.9185),(35,.9197),(40,.9203),(44,.921),(45,.9213),(50,.9224),(55,.9235),(60,.924),(66,.924),(70,.924),(75,.9237),(77,.924),(80,.9243),(85,.9243),(88,.9246),(90,.9247),(95,.925),(99,.9258),(100,.926),(105,.9257),(110,.925)]

fash_step_sps = [(0,-1.93),(2,-1.13),(5,-.95),(8,-.95),(10,-1.0),(15,-1.27),(20,-1.53),(25,-1.8),(30,-1.93),(35,-2.0),(40,-2.07),(50,-2.07),(60,-2.12),(70,-2.12),(80,-2.15),(90,-2.15),(100,-2.2),(110,-2.2),(120,-2.2),(130,-2.23),(140,-2.28),(150,-2.28),(160,-2.33),(170,-2.33),(180,-2.33),(190,-2.33),(200,-2.28)]
fash_step_sls = [(0,-3.67),(2,-3.0),(5,-2.2),(8,-1.27),(10,-1.0),(15,-.87),(20,-.68),(22,-.52),(25,-.73),(30,-1.27),(35,-1.48),(40,-1.53),(50,-1.59),(60,-1.67),(70,-1.75),(75,-1.85),(80,-1.93),(90,-2.07),(100,-2.12),(110,-2.12),(120,-2.2),(130,-2.2),(140,-2.2),(145,-2.28),(148,-2.47),(149,-5.0),(150,-8.2),(151,-9.13),(160,-9.05),(170,-9.05),(180,-9.05),(190,-9.05),(200,-9.0)]
fash_step_ponos = [(0,-3.53),(2,-.73),(4,.6),(5,.81),(8,.92),(11,.97),(22,.97),(33,.95),(40,.92),(44,.85),(50,.81),(55,.81),(60,.87),(66,.9),(70,.92),(77,.92),(88,.94),(99,.97),(110,.97)]

fash_grad_sps = [(0,.84),(1,.56),(3,.28),(5,.21),(10,.19),(15,.21),(20,.22),(25,.19),(30,.16),(40,.12),(50,.09),(60,.09),(70,.07),(80,.05),(90,.05),(100,.03),(110,.02),(120,0.0),(130,0.0),(140,0.0),(150,0.0),(160,-.02),(170,-.02),(180,-.02),(190,-.03),(200,-.02)]
fash_grad_sls = [(0,1.22),(2,.94),(5,.61),(8,.37),(10,.28),(15,.19),(20,.11),(25,.07),(30,.02),(40,-.07),(50,-.14),(60,-.17),(70,-.19),(80,-.21),(100,-.21),(120,-.22),(140,-.23),(160,-.24),(180,-.24),(200,-.24)]
fash_grad_ponos = [(0,1.5),(1,1.22),(2,.75),(3,.28),(5,0.0),(8,-.19),(11,-.45),(12,-.52),(15,-.56),(22,-.62),(25,-.61),(30,-.64),(33,-.6),(35,-.58),(40,-.66),(44,-.67),(50,-.8),(55,-.94),(60,-1.03),(66,-1.1),(70,-1.17),(75,-1.31),(77,-1.28),(80,-1.39),(85,-1.41),(88,-1.36),(90,-1.45),(95,-1.52),(99,-1.45),(103,-1.55),(105,-1.39),(108,-1.64),(110,-1.69)]

# ---------- svhn | wrn ----------
svhn_loss_adam = [(0,.88),(1,-.13),(3,-.49),(5,-.68),(10,-.95),(15,-1.1),(20,-1.28),(25,-1.41),(30,-1.5),(35,-1.59),(40,-1.72),(45,-1.78),(50,-1.87),(55,-1.9),(60,-2.01),(65,-1.96),(70,-2.05),(75,-2.09),(80,-2.14),(85,-2.23),(90,-2.14),(95,-2.27),(100,-2.23),(105,-2.32),(110,-2.23),(115,-2.38),(120,-2.33),(125,-2.42),(130,-2.33),(135,-2.45),(140,-2.38),(145,-2.51),(150,-2.42),(155,-2.6),(160,-2.38),(165,-2.51),(170,-2.42),(175,-2.6),(180,-2.45),(185,-2.51),(190,-2.6),(195,-2.56),(200,-3.06)]
svhn_loss_sps = [(0,.79),(2,-.13),(5,-.77),(8,-1.32),(10,-1.68),(12,-2.05),(15,-2.42),(18,-2.69),(20,-2.88),(25,-3.15),(30,-3.3),(35,-3.42),(40,-3.52),(45,-3.6),(50,-3.66),(60,-3.79),(70,-3.88),(80,-3.94),(90,-3.99),(100,-4.03),(120,-4.1),(140,-4.16),(160,-4.21),(180,-4.25),(200,-4.3)]
svhn_loss_sgd = [(0,.79),(2,-.22),(5,-.59),(10,-.68),(15,-.68),(20,-.77),(22,-.59),(25,-.68),(28,-.86),(30,-.64),(35,-.49),(37,-1.32),(38,-.77),(40,-1.87),(42,-2.97),(45,-3.42),(48,-2.78),(50,-3.52),(55,-3.61),(60,-3.7),(65,-3.79),(70,-3.97),(75,-4.16),(80,-4.21),(82,-3.24),(84,-4.2),(85,-4.25),(90,-4.16),(95,-4.25),(100,-4.3),(104,-2.97),(106,-4.25),(110,-4.21),(115,-4.29),(120,-4.34),(125,-4.29),(130,-4.34),(135,-4.25),(138,-3.9),(140,-4.34),(145,-4.21),(150,-4.25),(153,-.59),(155,-2.6),(158,-1.68),(160,-3.24),(163,-2.2),(165,-2.42),(168,-3.3),(170,-3.15),(173,-2.42),(175,-3.42),(177,-1.8),(180,-3.24),(183,-2.42),(185,-3.0),(188,-4.0),(190,-4.16),(195,-4.25),(200,-4.34)]
svhn_loss_sls = [(0,.79),(2,0.0),(5,-.18),(8,-.31),(10,-.31),(12,-.49),(15,-.59),(17,-.77),(20,-1.32),(22,-2.05),(25,-2.6),(28,-2.97),(30,-3.24),(35,-3.42),(40,-3.52),(50,-3.55),(60,-3.61),(70,-3.61),(80,-3.61),(82,-2.97),(84,-3.6),(90,-3.61),(100,-3.61),(120,-3.61),(138,-3.6),(140,-3.3),(142,-3.6),(160,-3.61),(175,-3.6),(178,-3.06),(180,-3.55),(200,-3.55)]
svhn_loss_ponos = [(0,.51),(2,-.22),(5,-.44),(8,-.55),(10,-.68),(12,-.77),(15,-.99),(18,-1.5),(20,-1.96),(22,-2.6),(25,-3.7),(28,-4.03),(30,-4.16),(35,-4.21),(40,-4.25),(50,-4.3),(60,-4.34),(80,-4.4),(100,-4.43),(120,-4.47),(140,-4.47),(160,-4.52),(180,-4.52),(200,-4.58)]

svhn_acc_adam = [(0,.90),(1,.925),(2,.9316),(3,.9372),(5,.9394),(8,.9439),(10,.9451),(12,.9434),(15,.9445),(18,.9428),(20,.9439),(25,.9422),(30,.9428),(32,.9399),(35,.9428),(40,.9439),(45,.9451),(50,.9456),(55,.9462),(60,.9467),(65,.9473),(70,.9479),(75,.9467),(80,.9479),(85,.9473),(90,.9479),(95,.9484),(100,.9484),(105,.949),(110,.9479),(115,.949),(120,.9484),(125,.9479),(130,.949),(135,.9484),(140,.9487),(145,.949),(150,.9484),(155,.9487),(160,.949),(165,.9484),(170,.949),(175,.9496),(180,.949),(185,.9498),(190,.9493),(195,.9501),(200,.9512)]
svhn_acc_sps = [(0,.90),(3,.925),(5,.9462),(7,.954),(8,.9554),(10,.954),(12,.9529),(15,.9524),(20,.952),(25,.9518),(30,.9515),(40,.9513),(50,.9511),(60,.9511),(80,.9513),(100,.9513),(120,.9513),(140,.9515),(160,.9515),(180,.9516),(200,.9518)]
svhn_acc_sgd = [(0,.90),(5,.915),(8,.932),(10,.930),(12,.920),(15,.918),(20,.915),(25,.924),(27,.926),(30,.918),(35,.926),(38,.92),(40,.9383),(42,.9383),(43,.92),(45,.9451),(48,.948),(50,.9484),(55,.9484),(60,.949),(65,.949),(70,.9493),(75,.949),(80,.9496),(85,.9493),(90,.949),(95,.9496),(100,.9498),(110,.9496),(120,.9496),(130,.9496),(140,.9493),(150,.9496),(153,.92),(155,.9399),(158,.9478),(160,.9445),(162,.92),(165,.924),(168,.92),(170,.923),(175,.92),(180,.925),(185,.935),(190,.948),(195,.949),(200,.949)]
svhn_acc_sls = [(0,.90),(10,.92),(12,.9372),(13,.934),(15,.9462),(17,.9563),(18,.956),(20,.9546),(25,.954),(30,.9538),(35,.9535),(40,.9538),(50,.9538),(60,.9538),(80,.9535),(100,.9538),(120,.9535),(140,.9538),(160,.9538),(180,.9537),(200,.9538)]
svhn_acc_ponos = [(0,.90),(2,.925),(3,.935),(5,.9383),(8,.9496),(10,.9518),(12,.953),(15,.954),(20,.9546),(25,.9549),(30,.9549),(40,.9552),(50,.9549),(60,.9549),(80,.9548),(100,.9549),(120,.9549),(140,.9549),(160,.9549),(180,.9549),(200,.9552)]

svhn_step_sps = [(0,.36),(2,.73),(4,.85),(5,.6),(8,0.0),(10,-.24),(15,-.41),(20,-.48),(30,-.48),(40,-.56),(50,-.48),(60,-.41),(70,-.48),(80,-.41),(90,-.48),(100,-.41),(110,-.48),(120,-.36),(130,-.36),(140,-.31),(150,-.48),(160,-.36),(170,-.48),(180,-.41),(190,-.31),(195,-.24),(200,-.48)]
svhn_step_sls = [(0,-.48),(2,.36),(5,.73),(8,.9),(10,.9),(12,.73),(15,.36),(20,.12),(25,0.0),(30,-.24),(35,-.36),(40,-.36),(45,-.48),(46,-.6),(47,-7.4),(48,-7.63),(50,-7.5),(60,-7.38),(70,-7.38),(80,-7.33),(90,-7.38),(100,-7.19),(110,-7.33),(120,-7.43),(130,-7.38),(140,-7.5),(150,-7.5),(160,-7.38),(170,-7.43),(180,-7.38),(190,-7.43),(200,-7.38)]
svhn_step_ponos = [(0,.36),(2,.9),(5,.97),(10,.9),(15,.85),(20,.97),(30,1.02),(40,1.02),(60,1.02),(80,1.02),(100,1.02),(120,1.02),(140,1.02),(160,1.02),(180,1.02),(200,1.02)]

svhn_grad_sps = [(0,.12),(2,-.3),(5,-.54),(8,-.66),(10,-.78),(15,-1.02),(20,-1.26),(25,-1.44),(30,-1.52),(35,-1.6),(40,-1.68),(50,-1.8),(60,-1.88),(70,-1.96),(80,-2.0),(90,-2.04),(100,-2.08),(110,-2.12),(120,-2.16),(140,-2.22),(160,-2.24),(180,-2.32),(200,-2.36)]
svhn_grad_sls = [(0,.18),(2,-.24),(5,-.54),(8,-.6),(10,-.64),(15,-.78),(18,-1.02),(20,-1.2),(25,-1.56),(30,-1.8),(35,-1.92),(40,-1.98),(50,-2.0),(60,-2.0),(80,-2.01),(100,-2.0),(120,-2.0),(140,-2.0),(160,-2.0),(180,-2.0),(195,-1.98),(200,-1.92)]
svhn_grad_ponos = [(0,.12),(2,-.54),(4,-.68),(10,-.72),(15,-.68),(17,-.78),(18,-1.14),(20,-1.86),(22,-2.34),(25,-2.64),(28,-2.82),(30,-2.94),(35,-3.12),(40,-3.18),(45,-3.24),(50,-3.28),(55,-3.24),(60,-3.3),(65,-3.36),(70,-3.3),(75,-3.36),(78,-2.88),(80,-3.3),(85,-3.42),(90,-3.48),(95,-3.45),(100,-3.54),(110,-3.51),(120,-3.54),(125,-3.6),(130,-3.48),(135,-3.51),(140,-3.54),(145,-3.6),(150,-3.48),(155,-3.54),(160,-3.42),(163,-3.0),(165,-3.48),(170,-3.42),(175,-3.6),(180,-3.66),(185,-3.69),(190,-3.72),(195,-3.75),(200,-3.78)]

# Regions where the std band reaches the axis limit: (optimizer index, start, end, low, high); None = axis limit
mnist_loss_gaps = [(2,14,17,None,-1.3),(2,22,30,None,-1.4),(2,36,52,None,-1.6),(2,58,74,None,-2.4),(0,100,106,None,-3.0),(0,113,132,None,-3.6),(0,136,160,None,-3.8),(4,40,56,None,-4.3)]
mnist_step_gaps = [(3,133,136,None,-0.2),(3,178,200,None,0.5)]
mnist_grad_gaps = [(3,187,200,None,-2.9)]
c10r_loss_gaps = [(0,18,20,None,-0.8),(0,95,100,None,-1.7),(2,2,4,None,0.3),(2,95,100,None,-1.7),(2,138,141,None,-1.9),(2,150,152,None,-2.2),(2,160,163,None,-2.3),(2,170,173,None,-2.3),(2,195,200,None,-2.5),(4,90,118,None,-3.5)]
c10r_step_gaps = [(3,96,120,None,-1.8)]
c10d_loss_gaps = [(1,31,37,None,-1.9),(2,50,52,None,-1.3),(2,58,61,None,-1.4),(2,75,77,None,-1.8),(2,92,95,None,-2.1),(2,125,127,None,-2.3),(2,135,150,None,-2.2),(2,165,175,None,-2.6),(2,185,195,None,-2.7),(4,70,100,None,-3.5)]
c10d_step_gaps = [(1,12,13.5,None,-0.15),(3,178,200,None,-1.3)]
c100r_loss_gaps = [(2,115,125,None,-2.3),(2,135,145,None,-2.5),(2,160,165,None,-2.8),(2,175,180,None,-3.0),(2,190,195,None,-3.1)]
c100d_loss_gaps = [(1,15,34,None,0.0),(2,58,60,None,-1.3),(2,75,77,None,-1.7),(2,108,112,None,-2.0),(2,115,125,None,-2.1),(2,135,140,None,-2.3),(2,150,155,None,-2.3),(2,165,170,None,-2.4),(2,180,185,None,-2.5),(2,195,200,None,-2.6)]
c100d_acc_gaps = [(1,15,25,0.66,None)]
c100d_step_gaps = [(1,25,28,None,0.4)]
c100d_grad_gaps = [(1,7,9,None,-0.1),(1,12,15,None,0.4)]
fash_loss_gaps = [(0,10,12,None,0.0),(0,24,26,None,-1.0),(0,45,47,None,-1.4),(0,73,75,None,-1.8),(0,100,103,None,-1.9),(0,110,112,None,-2.0),(0,130,132,None,-2.0),(0,150,152,None,-2.2),(0,170,172,None,-2.2),(0,185,187,None,-2.3),(0,197,200,None,-2.3),(2,15,17,None,-0.9),(2,26,30,None,-1.0),(2,75,78,None,-2.0),(2,150,152,None,-2.7),(4,90,110,None,-4.5)]
fash_step_gaps = [(3,84,150,None,-2.0),(4,0,3,None,-1.0)]
fash_grad_gaps = [(4,103,106,None,-1.5)]
svhn_loss_gaps = [(3,7,9,None,-0.3),(3,14,16,None,-0.6),(3,33,36,None,-3.4),(3,60,62,None,-3.6),(3,67,69,None,-3.6),(3,86,90,None,-3.5),(3,165,170,None,-3.5),(2,22,45,None,-0.8),(2,104,110,None,-3.0),(2,150,185,None,-2.5),(0,122,124,None,-2.3),(0,145,147,None,-2.5)]
svhn_step_gaps = [(3,36,47,None,-0.4)]
svhn_grad_gaps = [(4,75,80,None,-3.3),(4,150,152,None,-3.4),(4,160,165,None,-3.4),(4,170,172,None,-3.4),(4,178,180,None,-3.6)]

# ===================== PANEL CONFIGURATION =====================
def loss(series, ylim, yt, gaps=(), mark=None):
    return dict(series=series, log=True, ylim=ylim, yticks=yt, gaps=gaps, band=0.1, mark=mark or {})

def acc(series, ylim, yt, band, gaps=(), mark=None, bands=None):
    return dict(series=series, log=False, ylim=ylim, yticks=yt, gaps=gaps, band=band, mark=mark or {}, bands=bands or {})

def logp(series, ylim, yt, band, gaps=(), mark=None, bands=None):
    return dict(series=series, log=True, ylim=ylim, yticks=yt, gaps=gaps, band=band, mark=mark or {}, bands=bands or {})

R = lambda a, b: list(range(a, b - 1, -1))
PANELS = [
    [loss([mnist_loss_adam, mnist_loss_sps, mnist_loss_sgd, mnist_loss_sls, mnist_loss_ponos], (-6, 0.63), R(0, -6), mnist_loss_gaps, {4: 5}),
     acc([mnist_acc_adam, mnist_acc_sps, mnist_acc_sgd, mnist_acc_sls, mnist_acc_ponos], (0.95, 0.99), [0.95 + 0.005 * i for i in range(9)], 0.0008, mark={4: 5}),
     logp([None, mnist_step_sps, None, mnist_step_sls, mnist_step_ponos], (-1.41, 1.16), [1, 0, -1], 0.08, mnist_step_gaps, {4: 5}, {1: 0.15, 3: 0.25}),
     logp([None, mnist_grad_sps, None, mnist_grad_sls, mnist_grad_ponos], (-6.2, 0.64), R(0, -6), 0.05, mnist_grad_gaps, {4: 5})],
    [loss([c10r_loss_adam, c10r_loss_sps, c10r_loss_sgd, c10r_loss_sls, c10r_loss_ponos], (-6, 0.72), R(0, -6), c10r_loss_gaps, {4: 11}),
     acc([c10r_acc_adam, c10r_acc_sps, c10r_acc_sgd, c10r_acc_sls, c10r_acc_ponos], (0.85, 0.95), [0.86, 0.88, 0.90, 0.92, 0.94], 0.003, mark={4: 11}),
     logp([None, c10r_step_sps, None, c10r_step_sls, c10r_step_ponos], (-10.75, 1.3), [1, -1, -3, -5, -7, -9], 0.12, c10r_step_gaps, {4: 11}),
     logp([None, c10r_grad_sps, None, c10r_grad_sls, c10r_grad_ponos], (-1.66, 1.32), [1, 0, -1], 0.04, (), {4: 11})],
    [loss([c10d_loss_adam, c10d_loss_sps, c10d_loss_sgd, c10d_loss_sls, c10d_loss_ponos], (-6, 0.72), R(0, -6), c10d_loss_gaps, {4: 10}),
     acc([c10d_acc_adam, c10d_acc_sps, c10d_acc_sgd, c10d_acc_sls, c10d_acc_ponos], (0.85, 0.95), [0.86, 0.88, 0.90, 0.92, 0.94], 0.003, mark={4: 10}),
     logp([None, c10d_step_sps, None, c10d_step_sls, c10d_step_ponos], (-2.49, 1.03), [1, 0, -1, -2], 0.1, c10d_step_gaps, {4: 10}),
     logp([None, c10d_grad_sps, None, c10d_grad_sls, c10d_grad_ponos], (-1.53, 0.76), [0, -1], 0.05, (), {4: 10})],
    [loss([c100r_loss_adam, c100r_loss_sps, c100r_loss_sgd, c100r_loss_sls, c100r_loss_ponos], (-4.84, 1.1), R(1, -4), c100r_loss_gaps),
     acc([c100r_acc_adam, c100r_acc_sps, c100r_acc_sgd, c100r_acc_sls, c100r_acc_ponos], (0.65, 0.78), [0.66, 0.68, 0.70, 0.72, 0.74, 0.76, 0.78], 0.002, bands={2: 0.005}),
     logp([None, c100r_step_sps, None, c100r_step_sls, c100r_step_ponos], (-2.41, 1.23), [1, 0, -1, -2], 0.05),
     logp([None, c100r_grad_sps, None, c100r_grad_sls, c100r_grad_ponos], (-2.52, 1.29), [1, 0, -1, -2], 0.04)],
    [loss([c100d_loss_adam, c100d_loss_sps, c100d_loss_sgd, c100d_loss_sls, c100d_loss_ponos], (-5.25, 2.08), R(2, -5), c100d_loss_gaps),
     acc([c100d_acc_adam, c100d_acc_sps, c100d_acc_sgd, c100d_acc_sls, c100d_acc_ponos], (0.65, 0.78), [0.66, 0.68, 0.70, 0.72, 0.74, 0.76, 0.78], 0.002, c100d_acc_gaps, bands={1: 0.01, 2: 0.006}),
     logp([None, c100d_step_sps, None, c100d_step_sls, c100d_step_ponos], (-2.06, 1.23), [1, 0, -1, -2], 0.06, c100d_step_gaps),
     logp([None, c100d_grad_sps, None, c100d_grad_sls, c100d_grad_ponos], (-2.77, 1.28), [1, 0, -1, -2], 0.04, c100d_grad_gaps)],
    [loss([fash_loss_adam, fash_loss_sps, fash_loss_sgd, fash_loss_sls, fash_loss_ponos], (-6, 0.67), R(0, -6), fash_loss_gaps, {4: 11}),
     acc([fash_acc_adam, fash_acc_sps, fash_acc_sgd, fash_acc_sls, fash_acc_ponos], (0.875, 0.935), [0.88, 0.89, 0.90, 0.91, 0.92, 0.93], 0.0015, mark={4: 11}),
     logp([None, fash_step_sps, None, fash_step_sls, fash_step_ponos], (-10.44, 1.48), [1, -1, -3, -5, -7, -9], 0.15, fash_step_gaps, {4: 11}),
     logp([None, fash_grad_sps, None, fash_grad_sls, fash_grad_ponos], (-2.57, 1.62), [1, 0, -1, -2], 0.05, fash_grad_gaps, {4: 11})],
    [loss([svhn_loss_adam, svhn_loss_sps, svhn_loss_sgd, svhn_loss_sls, svhn_loss_ponos], (-7.0, 1.24), R(1, -6), svhn_loss_gaps),
     acc([svhn_acc_adam, svhn_acc_sps, svhn_acc_sgd, svhn_acc_sls, svhn_acc_ponos], (0.925, 0.9755), [0.93, 0.94, 0.95, 0.96, 0.97], 0.0012),
     logp([None, svhn_step_sps, None, svhn_step_sls, svhn_step_ponos], (-9.32, 1.57), [0, -2, -4, -6, -8], 0.12, svhn_step_gaps),
     logp([None, svhn_grad_sps, None, svhn_grad_sls, svhn_grad_ponos], (-4.98, 0.42), [0, -1, -2, -3, -4], 0.06, svhn_grad_gaps)],
]
LEGEND_LOC = ["upper right", "lower right", "lower right", "upper right"]

# ===================== DRAWING =====================
W, H = 1536, 1498
fig = plt.figure(figsize=(W / 100, H / 100), dpi=100)
AX_LEFT = [37, 416, 796, 1176]
AX_W, AX_H = 334, 148
ROW_TOP0, ROW_STEP = 12, 219

for r, row in enumerate(PANELS):
    for c, P in enumerate(row):
        top = ROW_TOP0 + r * ROW_STEP
        ax = fig.add_axes([AX_LEFT[c] / W, 1 - (top + AX_H) / H, AX_W / W, AX_H / H])
        log = P["log"]
        tr = (lambda v: np.power(10.0, v)) if log else (lambda v: v)
        ylo, yhi = tr(P["ylim"][0]), tr(P["ylim"][1])
        for i, name in enumerate(OPTIMIZERS):
            pts = P["series"][i]
            col = COLORS[i]
            if pts is None:
                ax.plot([], [], color=col, lw=1.0, marker="o", ms=2.2, label=name)
                continue
            ep = np.array([p[0] for p in pts], float)
            val = np.array([p[1] for p in pts], float)
            bw = P.get("bands", {}).get(i, P["band"])
            ax.fill_between(ep, tr(val - bw), tr(val + bw), color=col, alpha=0.1, lw=0)
            step = P["mark"].get(i, 20)
            targets = np.arange(0, ep[-1] + 0.5, step)
            marks = sorted(set(int(np.argmin(np.abs(ep - m))) for m in targets))
            ax.plot(ep, tr(val), color=col, lw=1.0, marker="o", ms=2.2, markevery=marks, label=name)
        for (i, s, e, lo, hi) in P["gaps"]:
            y0 = ylo if lo is None else tr(lo)
            y1 = yhi if hi is None else tr(hi)
            ax.fill_between([s, e], [y0, y0], [y1, y1], color=COLORS[i], alpha=0.07, lw=0)
        if log:
            ax.set_yscale("log")
            ax.set_yticks([10.0 ** k for k in P["yticks"]])
            ax.set_yticklabels([r"$10^{%d}$" % k for k in P["yticks"]])
            ax.yaxis.set_minor_locator(matplotlib.ticker.NullLocator())
        else:
            ax.set_yticks(P["yticks"])
            fmt = "%.3f" if r == 0 else "%.2f"
            ax.set_yticklabels([fmt % t for t in P["yticks"]])
        ax.set_ylim(ylo, yhi)
        ax.set_xlim(0, 200)
        ax.set_xticks(X_TICKS)
        ax.xaxis.grid(True, color="#b0b0b0", lw=0.8)
        ax.yaxis.grid(True, color="#c8c8c8", lw=1.3)
        ax.set_axisbelow(True)
        ax.tick_params(labelsize=5.3, length=2.5, width=0.6, pad=1.5)
        ax.set_title(ROW_TITLES[r], fontsize=6.8, pad=2)
        ax.set_xlabel("epoch", fontsize=7, labelpad=1)
        ax.set_ylabel(YLABELS[c], fontsize=6.5, labelpad=2)
        for sp in ax.spines.values():
            sp.set_linewidth(0.8)
        ax.legend(loc=LEGEND_LOC[c], fontsize=5.8, handlelength=2.3, borderpad=0.4,
                  labelspacing=0.5, borderaxespad=0.4, framealpha=0.8)

fig.savefig("out.png", dpi=100)
